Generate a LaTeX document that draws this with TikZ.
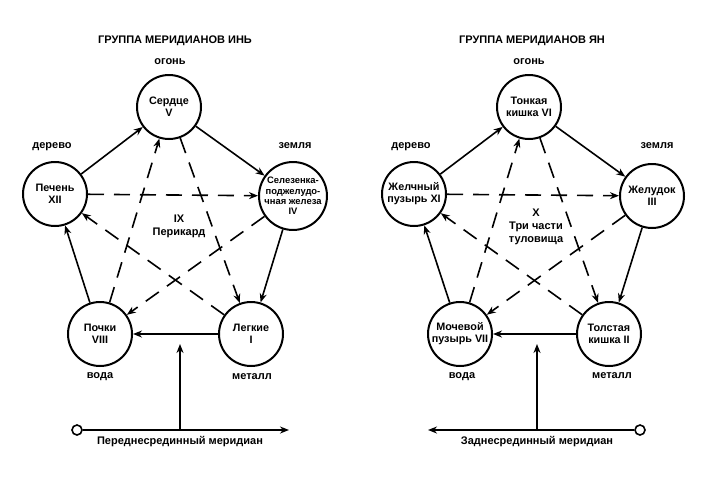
\documentclass[tikz,border=0pt]{standalone}
\usepackage{fontspec}
\setmainfont{Liberation Sans}
\usetikzlibrary{arrows.meta}
\usetikzlibrary{positioning}

\begin{document}
\begin{tikzpicture}[x=1pt,y=-1pt]
\tikzstyle{organ} = [circle, draw, line width=2pt, minimum size=64pt, inner sep=0pt,
align=center, font=\bfseries\fontsize{10.8}{12}\selectfont]
\tikzstyle{elem} = [font=\bfseries\fontsize{11}{13}\selectfont]
\tikzstyle{heading} = [font=\bfseries\fontsize{11}{13}\selectfont]
\tikzstyle{line} = [draw, line width=1.6pt, -{Stealth[length=9pt,width=7pt]}]
\tikzstyle{ctrl} = [line, dash pattern=on 16pt off 10pt]
\tikzstyle{start} = [circle, draw, line width=1.6pt, fill=white, minimum size=10pt, inner sep=0pt]
\useasboundingbox (0,0) rectangle (714,480);
% yin group
\node [heading] (yintitle) at (175,41) {ГРУППА МЕРИДИАНОВ ИНЬ};
\node [organ] (heart) at (169,107) {Сердце\\V};
\node [organ] (liver) at (55,194) {Печень\\XII};
\node [organ, font=\bfseries\fontsize{9.4}{10.2}\selectfont] (spleen) at (293,196)
{Селезенка-\\поджелудо-\\чная железа\\IV};
\node [organ] (kidney) at (100,334) {Почки\\VIII};
\node [organ] (lung) at (251,334) {Легкие\\I};
\node [elem] at (170,62) {огонь};
\node [elem] at (52,147) {дерево};
\node [elem] at (295,146) {земля};
\node [elem] at (100,377) {вода};
\node [elem] at (252,377) {металл};
\node [elem, align=center] (pericard) at (179,226) {IX\\Перикард};
\draw [line] (liver) -- (heart);
\draw [line] (heart) -- (spleen);
\draw [line] (spleen) -- (lung);
\draw [line] (lung) -- (kidney);
\draw [line] (kidney) -- (liver);
\draw [ctrl] (liver) -- (spleen);
\draw [ctrl] (spleen) -- (kidney);
\draw [ctrl] (kidney) -- (heart);
\draw [ctrl] (heart) -- (lung);
\draw [ctrl] (lung) -- (liver);
\node [start] (front) at (77,430) {};
\coordinate (frontend) at (289,430);
\coordinate (frontmid) at (180,430);
\coordinate (fronttip) at (180,344);
\draw [line] (front) -- (frontend);
\draw [line] (frontmid) -- (fronttip);
\node [elem] at (180,442) {Переднесрединный меридиан};
% yang group
\node [heading] (yangtitle) at (532,41) {ГРУППА МЕРИДИАНОВ ЯН};
\node [organ] (smallint) at (529,107) {Тонкая\\кишка VI};
\node [organ] (gall) at (414,194) {Желчный\\пузырь XI};
\node [organ] (stomach) at (652,196) {Желудок\\III};
\node [organ] (bladder) at (460,334) {Мочевой\\пузырь VII};
\node [organ] (colon) at (609,334) {Толстая\\кишка II};
\node [elem] at (529,62) {огонь};
\node [elem] at (411,147) {дерево};
\node [elem] at (657,146) {земля};
\node [elem] at (462,377) {вода};
\node [elem] at (612,376) {металл};
\node [elem, align=center] (trunk) at (536,227) {X\\Три части\\туловища};
\draw [line] (gall) -- (smallint);
\draw [line] (smallint) -- (stomach);
\draw [line] (stomach) -- (colon);
\draw [line] (colon) -- (bladder);
\draw [line] (bladder) -- (gall);
\draw [ctrl] (gall) -- (stomach);
\draw [ctrl] (stomach) -- (bladder);
\draw [ctrl] (bladder) -- (smallint);
\draw [ctrl] (smallint) -- (colon);
\draw [ctrl] (colon) -- (gall);
\node [start] (back) at (640,430) {};
\coordinate (backend) at (428,430);
\coordinate (backmid) at (537,430);
\coordinate (backtip) at (537,344);
\draw [line] (back) -- (backend);
\draw [line] (backmid) -- (backtip);
\node [elem] at (537,442) {Заднесрединный меридиан};
\end{tikzpicture}
\end{document}
